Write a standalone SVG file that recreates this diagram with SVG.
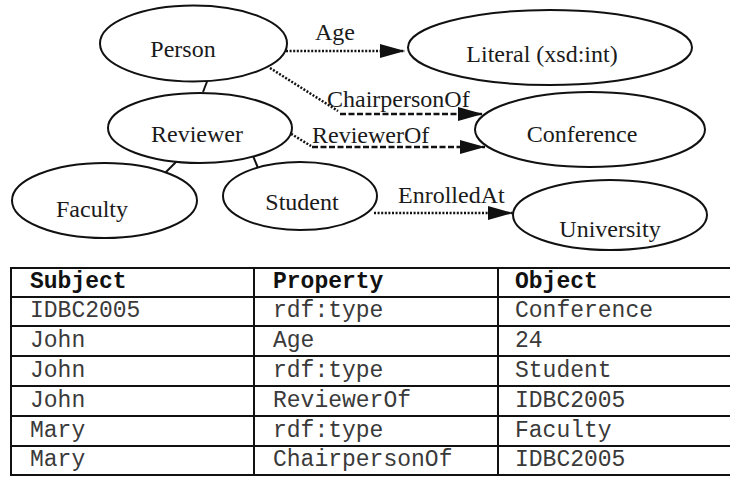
<svg xmlns="http://www.w3.org/2000/svg" width="730" height="477" viewBox="0 0 730 477">
<defs>
<style>
.node ellipse{fill:#fff;stroke:#111;stroke-width:2}
.node text{font-family:"Liberation Serif","Times New Roman",serif;font-size:24px;fill:#1a1a1a;text-anchor:middle}
.lbl{font-family:"Liberation Serif","Times New Roman",serif;font-size:24px;fill:#1a1a1a}
.solid{stroke:#111;stroke-width:2;fill:none}
.dot{stroke:#111;stroke-width:2.5;stroke-dasharray:2 1.6;fill:none}
.dash{stroke:#111;stroke-width:2.5;stroke-dasharray:6 2.5;fill:none}
.grid{stroke:#111;stroke-width:2;fill:none}
.th{font-family:"Liberation Mono","Courier New",monospace;font-size:23px;font-weight:bold;fill:#111}
.td{font-family:"Liberation Mono","Courier New",monospace;font-size:23px;fill:#3a3a3a}
</style>
<marker id="ah" markerUnits="userSpaceOnUse" markerWidth="27" markerHeight="15" refX="25" refY="7" orient="auto">
<path d="M0,0 L25,7 L0,14 z" fill="#111"/>
</marker>
</defs>
<rect width="730" height="477" fill="#fff"/>
<g id="connectors">
<line class="solid" x1="208" y1="79" x2="203" y2="92"/>
<line class="solid" x1="180" y1="158" x2="161" y2="177"/>
<line class="solid" x1="251" y1="151" x2="258" y2="168"/>
<line class="dot" x1="286" y1="51" x2="405" y2="51" marker-end="url(#ah)"/>
<line class="dot" x1="270" y1="68" x2="338" y2="111"/>
<line class="dash" x1="340" y1="114" x2="483" y2="114" marker-end="url(#ah)"/>
<line class="dot" x1="288" y1="132" x2="311" y2="146"/>
<line class="dash" x1="312" y1="147" x2="485" y2="147" marker-end="url(#ah)"/>
<line class="dot" x1="374" y1="213" x2="513" y2="213" marker-end="url(#ah)"/>
<text class="lbl" x="315" y="40">Age</text>
<text class="lbl" x="327" y="107">ChairpersonOf</text>
<text class="lbl" x="312" y="143">ReviewerOf</text>
<text class="lbl" x="398" y="203">EnrolledAt</text>
</g>
<g id="person" class="node"><ellipse cx="193.5" cy="43.5" rx="93.5" ry="38"/><text x="183" y="57">Person</text></g>
<g id="reviewer" class="node"><ellipse cx="200" cy="128" rx="92" ry="35"/><text x="197" y="142">Reviewer</text></g>
<g id="faculty" class="node"><ellipse cx="104.5" cy="200.5" rx="92.5" ry="37.5"/><text x="92" y="217">Faculty</text></g>
<g id="student" class="node"><ellipse cx="300" cy="196" rx="77" ry="34"/><text x="302" y="210">Student</text></g>
<g id="literal" class="node"><ellipse cx="550" cy="47.5" rx="142" ry="37.5"/><text x="542" y="62">Literal (xsd:int)</text></g>
<g id="conference" class="node"><ellipse cx="590" cy="129.5" rx="115" ry="37.5"/><text x="582" y="142">Conference</text></g>
<g id="university" class="node"><ellipse cx="610" cy="215" rx="97" ry="35"/><text x="610" y="237">University</text></g>
<g id="table">
<rect class="grid" x="11" y="268" width="725" height="207"/>
<line class="grid" x1="11" y1="297" x2="731" y2="297"/>
<line class="grid" x1="11" y1="326" x2="731" y2="326"/>
<line class="grid" x1="11" y1="356" x2="731" y2="356"/>
<line class="grid" x1="11" y1="386" x2="731" y2="386"/>
<line class="grid" x1="11" y1="416" x2="731" y2="416"/>
<line class="grid" x1="11" y1="446" x2="731" y2="446"/>
<line class="grid" x1="254" y1="268" x2="254" y2="475"/>
<line class="grid" x1="498" y1="268" x2="498" y2="475"/>
<text class="th" x="30" y="288">Subject</text>
<text class="th" x="273" y="288">Property</text>
<text class="th" x="515" y="288">Object</text>
<text class="td" x="30" y="317">IDBC2005</text>
<text class="td" x="273" y="317">rdf:type</text>
<text class="td" x="515" y="317">Conference</text>
<text class="td" x="30" y="347">John</text>
<text class="td" x="273" y="347">Age</text>
<text class="td" x="515" y="347">24</text>
<text class="td" x="30" y="377">John</text>
<text class="td" x="273" y="377">rdf:type</text>
<text class="td" x="515" y="377">Student</text>
<text class="td" x="30" y="407">John</text>
<text class="td" x="273" y="407">ReviewerOf</text>
<text class="td" x="515" y="407">IDBC2005</text>
<text class="td" x="30" y="437">Mary</text>
<text class="td" x="273" y="437">rdf:type</text>
<text class="td" x="515" y="437">Faculty</text>
<text class="td" x="30" y="466">Mary</text>
<text class="td" x="273" y="466">ChairpersonOf</text>
<text class="td" x="515" y="466">IDBC2005</text>
</g>
</svg>
